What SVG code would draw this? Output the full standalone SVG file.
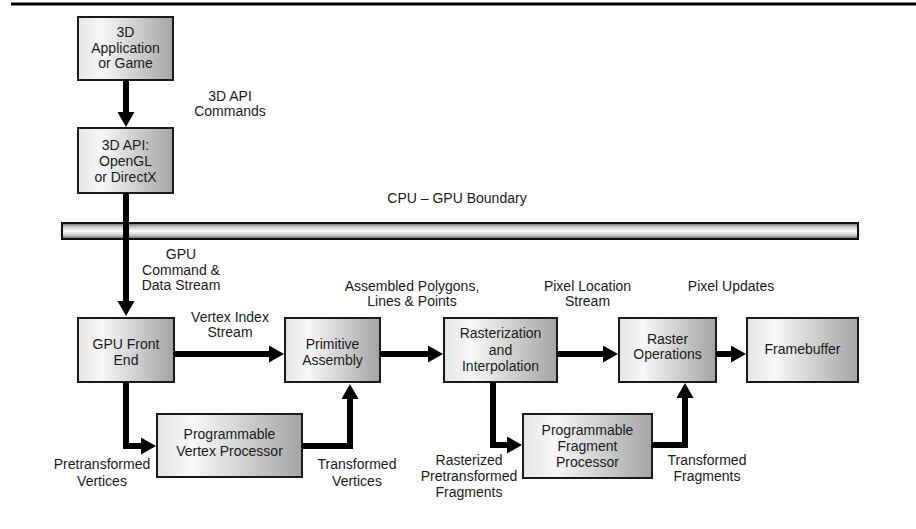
<svg xmlns="http://www.w3.org/2000/svg" width="916" height="529" viewBox="0 0 916 529">
  <style>
    .box { stroke: #1a1a1a; stroke-width: 2; fill: url(#boxFill); }
    .lbl { font-family: "Liberation Sans", Arial, sans-serif; font-size: 14px; fill: #1a1a1a; text-anchor: middle; }
    .wire { fill: none; stroke: #000; stroke-width: 6; stroke-linejoin: miter; stroke-linecap: butt; marker-end: url(#head); }
  </style>
  <defs>
    <linearGradient id="boxFill" x1="0" y1="0" x2="1" y2="0">
      <stop offset="0" stop-color="#e6e6e6"/>
      <stop offset="0.25" stop-color="#f7f7f7"/>
      <stop offset="1" stop-color="#a4a4a4"/>
    </linearGradient>
    <linearGradient id="barFill" x1="0" y1="0" x2="0" y2="1">
      <stop offset="0" stop-color="#5a5a5a"/>
      <stop offset="0.22" stop-color="#c4c4c4"/>
      <stop offset="0.5" stop-color="#ffffff"/>
      <stop offset="0.78" stop-color="#c4c4c4"/>
      <stop offset="1" stop-color="#5a5a5a"/>
    </linearGradient>
    <marker id="head" markerUnits="userSpaceOnUse" markerWidth="16" markerHeight="18" refX="1" refY="8.5" orient="auto">
      <path d="M0,0 L15,8.5 L0,17 z" fill="#000"/>
    </marker>
  </defs>

  <rect width="916" height="529" fill="#fff"/>

  <!-- top rule -->
  <line x1="11" y1="4" x2="916" y2="4" stroke="#000" stroke-width="3"/>

  <!-- CPU / GPU boundary bar -->
  <g id="boundary">
    <rect x="62" y="223" width="796" height="16" fill="url(#barFill)" stroke="#111" stroke-width="2"/>
    <text class="lbl" x="457" y="203">CPU – GPU Boundary</text>
  </g>

  <!-- pipeline stages -->
  <g id="app">
    <rect class="box" x="78" y="17" width="95" height="63"/>
    <text class="lbl" x="125.5" y="37">3D</text>
    <text class="lbl" x="125.5" y="53">Application</text>
    <text class="lbl" x="125.5" y="68">or Game</text>
  </g>
  <g id="api">
    <rect class="box" x="78" y="128" width="95" height="65"/>
    <text class="lbl" x="125.5" y="150">3D API:</text>
    <text class="lbl" x="125.5" y="166">OpenGL</text>
    <text class="lbl" x="125.5" y="182">or DirectX</text>
  </g>
  <g id="frontend">
    <rect class="box" x="78" y="318" width="96" height="64"/>
    <text class="lbl" x="126" y="349">GPU Front</text>
    <text class="lbl" x="126" y="365">End</text>
  </g>
  <g id="primitive">
    <rect class="box" x="285" y="318" width="95" height="64"/>
    <text class="lbl" x="332.5" y="349">Primitive</text>
    <text class="lbl" x="332.5" y="365">Assembly</text>
  </g>
  <g id="vertexproc">
    <rect class="box" x="157" y="414" width="145" height="63"/>
    <text class="lbl" x="229.5" y="439">Programmable</text>
    <text class="lbl" x="229.5" y="456">Vertex Processor</text>
  </g>
  <g id="raster">
    <rect class="box" x="444" y="318" width="113" height="64"/>
    <text class="lbl" x="500.5" y="338">Rasterization</text>
    <text class="lbl" x="500.5" y="355">and</text>
    <text class="lbl" x="500.5" y="371">Interpolation</text>
  </g>
  <g id="fragproc">
    <rect class="box" x="523" y="414" width="129" height="64"/>
    <text class="lbl" x="587.5" y="435">Programmable</text>
    <text class="lbl" x="587.5" y="451">Fragment</text>
    <text class="lbl" x="587.5" y="467">Processor</text>
  </g>
  <g id="rop">
    <rect class="box" x="619" y="318" width="97" height="64"/>
    <text class="lbl" x="667.5" y="344">Raster</text>
    <text class="lbl" x="667.5" y="359">Operations</text>
  </g>
  <g id="framebuffer">
    <rect class="box" x="747" y="318" width="111" height="64"/>
    <text class="lbl" x="802.5" y="354">Framebuffer</text>
  </g>

  <!-- data flow -->
  <g id="connectors">
    <path class="wire" d="M126,80 V113"/>
    <path class="wire" d="M126,193 V302"/>
    <path class="wire" d="M174,354 H270"/>
    <path class="wire" d="M126,382 V446 H142"/>
    <path class="wire" d="M302,446 H350 V398"/>
    <path class="wire" d="M380,354 H429"/>
    <path class="wire" d="M557,354 H604"/>
    <path class="wire" d="M493,382 V445 H508"/>
    <path class="wire" d="M652,445 H685 V397"/>
    <path class="wire" d="M716,354 H732"/>
  </g>

  <!-- flow labels -->
  <g id="labels">
    <text class="lbl" x="230" y="101">3D API</text>
    <text class="lbl" x="230" y="116">Commands</text>
    <text class="lbl" x="181" y="259">GPU</text>
    <text class="lbl" x="181" y="275">Command &amp;</text>
    <text class="lbl" x="181" y="290">Data Stream</text>
    <text class="lbl" x="230" y="322">Vertex Index</text>
    <text class="lbl" x="230" y="337">Stream</text>
    <text class="lbl" x="102" y="469">Pretransformed</text>
    <text class="lbl" x="102" y="486">Vertices</text>
    <text class="lbl" x="357" y="469">Transformed</text>
    <text class="lbl" x="357" y="486">Vertices</text>
    <text class="lbl" x="412" y="291">Assembled Polygons,</text>
    <text class="lbl" x="412" y="306">Lines &amp; Points</text>
    <text class="lbl" x="587.5" y="291">Pixel Location</text>
    <text class="lbl" x="587.5" y="306">Stream</text>
    <text class="lbl" x="731" y="291">Pixel Updates</text>
    <text class="lbl" x="469" y="465">Rasterized</text>
    <text class="lbl" x="469" y="481">Pretransformed</text>
    <text class="lbl" x="469" y="497">Fragments</text>
    <text class="lbl" x="707" y="465">Transformed</text>
    <text class="lbl" x="707" y="481">Fragments</text>
  </g>
</svg>
